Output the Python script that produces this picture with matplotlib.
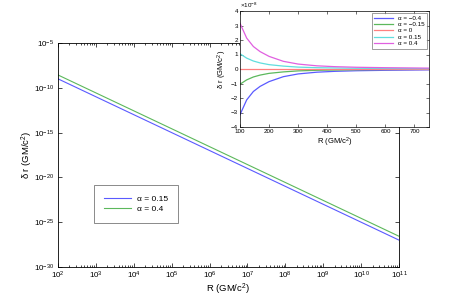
import matplotlib
matplotlib.use("Agg")
import matplotlib.pyplot as plt
from matplotlib.ticker import LogLocator, FixedLocator, NullFormatter

plt.rcParams['font.family'] = ['Liberation Sans', 'DejaVu Sans']
plt.rcParams['mathtext.fontset'] = 'custom'
plt.rcParams['mathtext.rm'] = 'Liberation Sans'
plt.rcParams['mathtext.it'] = 'Liberation Sans'

# ---- main panel data (log-log straight lines) ----
main_R = [1e2, 1e11]
main_alpha_015 = [1.0e-9, 1.0e-27]
main_alpha_04 = [2.7e-9, 2.7e-27]
main_labels = ['α = 0.15', 'α = 0.4']

# ---- inset data (units of 1e-8) ----
inset_R = [100, 123, 146, 169, 200, 249, 300, 364, 427, 500, 600, 700, 750]
inset_m04 = [-3.15, -2.13, -1.55, -1.2, -0.87, -0.53, -0.34, -0.22, -0.16, -0.12, -0.09, -0.07, -0.06]
inset_m015 = [-1.05, -0.75, -0.55, -0.42, -0.3, -0.2, -0.13, -0.09, -0.07, -0.05, -0.035, -0.027, -0.024]
inset_0 = [0, 0, 0, 0, 0, 0, 0, 0, 0, 0, 0, 0, 0]
inset_p015 = [1.05, 0.75, 0.55, 0.42, 0.3, 0.2, 0.13, 0.09, 0.07, 0.05, 0.035, 0.027, 0.024]
inset_p04 = [3.15, 2.13, 1.55, 1.2, 0.87, 0.53, 0.34, 0.22, 0.16, 0.12, 0.09, 0.07, 0.06]
inset_labels = ['α = −0.4', 'α = −0.15', 'α = 0', 'α = 0.15', 'α = 0.4']

W, H = 452, 298
fig = plt.figure(figsize=(W / 100, H / 100), dpi=100)

c_blue = '#5a5aff'
c_green = '#5cb85c'
c_red = '#ff8080'
c_cyan = '#60dede'
c_mag = '#e060e0'

# main axes
ax = fig.add_axes([58 / W, 1 - 267 / H, (399 - 58) / W, (267 - 43) / H])
ax.loglog(main_R, main_alpha_015, color=c_blue, lw=0.8, label=main_labels[0])
ax.loglog(main_R, main_alpha_04, color=c_green, lw=0.8, label=main_labels[1])
ax.set_xlim(1e2, 1e11)
ax.set_ylim(1e-30, 1e-5)
ax.xaxis.set_major_locator(LogLocator(base=10, numticks=20))
ax.xaxis.set_minor_locator(LogLocator(base=10, subs=range(2, 10), numticks=100))
ax.xaxis.set_minor_formatter(NullFormatter())
ax.yaxis.set_major_locator(FixedLocator([1e-30, 1e-25, 1e-20, 1e-15, 1e-10, 1e-5]))
ax.yaxis.set_minor_locator(FixedLocator([]))
ax.tick_params(which='both', direction='in', top=True, right=True, labelsize=5.8, pad=3)
ax.tick_params(axis='x', which='both', pad=2)
ax.tick_params(which='major', length=3, width=0.5)
ax.tick_params(which='minor', length=1.5, width=0.5)
for s in ax.spines.values():
    s.set_linewidth(0.6)
ax.set_xlabel('R (GM/c$^2$)', fontsize=6.8, va='center')
ax.xaxis.set_label_coords(0.5, -(289.5 - 267) / 224)
ax.set_ylabel('δ r (GM/c$^2$)', fontsize=6.8, va='center')
ax.yaxis.set_label_coords(-(58 - 27) / 341, 0.5)
leg = ax.legend(loc='upper left', bbox_to_anchor=((94 - 58) / (399 - 58), 1 - (185 - 43) / (267 - 43)),
                fontsize=6, frameon=True, fancybox=False, edgecolor='#555555',
                handlelength=3.2, borderpad=1.2, labelspacing=0.3, borderaxespad=0)
leg.get_frame().set_linewidth(0.6)

# inset axes
ai = fig.add_axes([240 / W, 1 - 127 / H, (429 - 240) / W, (127 - 11) / H])
ai.plot(inset_R, inset_m04, color=c_blue, lw=0.9, label=inset_labels[0])
ai.plot(inset_R, inset_m015, color=c_green, lw=0.9, label=inset_labels[1])
ai.plot(inset_R, inset_0, color=c_red, lw=0.9, label=inset_labels[2])
ai.plot(inset_R, inset_p015, color=c_cyan, lw=0.9, label=inset_labels[3])
ai.plot(inset_R, inset_p04, color=c_mag, lw=0.9, label=inset_labels[4])
ai.set_xlim(100, 750)
ai.set_ylim(-4, 4)
ai.set_xticks([100, 200, 300, 400, 500, 600, 700])
ai.set_yticks([-4, -3, -2, -1, 0, 1, 2, 3, 4])
ai.tick_params(direction='in', top=True, right=True, labelsize=4.5, length=2, width=0.4, pad=1.5)
for s in ai.spines.values():
    s.set_linewidth(0.5)
ai.set_xlabel('R (GM/c$^2$)', fontsize=5.5, labelpad=1)
ai.set_ylabel('δ r (GM/c$^2$)', fontsize=5.5, labelpad=1)
ai.text(0.0, 1.005, r'$\times10^{-8}$', transform=ai.transAxes, fontsize=4.5, ha='left', va='bottom')
li = ai.legend(loc='upper right', fontsize=4.5, frameon=True, fancybox=False, edgecolor='#555555',
               handlelength=3, borderpad=0.4, labelspacing=0.15, borderaxespad=0.3)
li.get_frame().set_linewidth(0.5)

fig.savefig('out.png', dpi=100, facecolor='white')
